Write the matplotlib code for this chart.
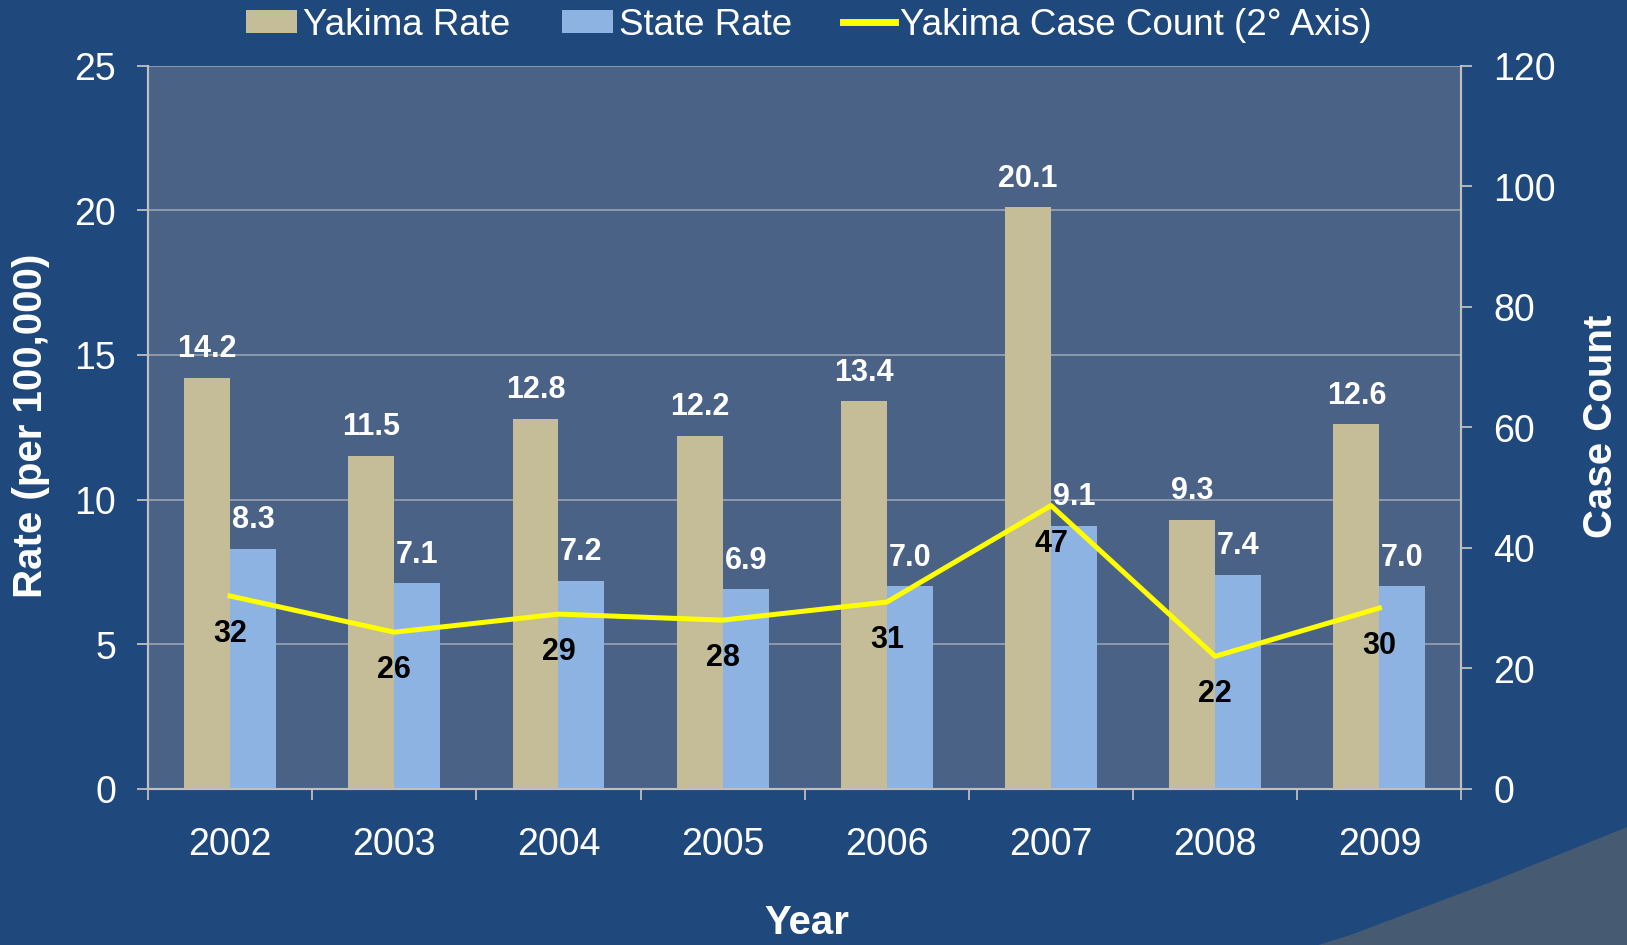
import matplotlib
matplotlib.use('Agg')
import matplotlib.pyplot as plt
import numpy as np
from matplotlib.patches import Polygon, Patch
from matplotlib.lines import Line2D

plt.rcParams['font.family'] = ['Liberation Sans', 'DejaVu Sans']

# Данные
years = ['2002', '2003', '2004', '2005', '2006', '2007', '2008', '2009']
yakima_rate = [14.2, 11.5, 12.8, 12.2, 13.4, 20.1, 9.3, 12.6]
state_rate = [8.3, 7.1, 7.2, 6.9, 7.0, 9.1, 7.4, 7.0]
case_count = [32, 26, 29, 28, 31, 47, 22, 30]

bg = '#1F497D'
plot_bg = '#4A6286'
tan = '#C4BD97'
lblue = '#8DB3E2'
grey = '#BFBFBF'

fig = plt.figure(figsize=(16.275, 9.455), dpi=100, facecolor=bg)

# декоративный уголок внизу справа
corner = Polygon([(1318 / 1627, 0), (1350 / 1627, 10 / 945), (1488 / 1627, 62 / 945),
                  (1627 / 1627, 118 / 945), (1, 0)],
                 closed=True, transform=fig.transFigure, facecolor='#465A72',
                 edgecolor='none', zorder=0)
fig.patches.append(corner)

ax = fig.add_axes([148 / 1627, 1 - 789 / 945, 1313 / 1627, 723 / 945], facecolor=plot_bg)

x = np.arange(len(years))
w = 0.28

ax.bar(x - w / 2, yakima_rate, w, color=tan, zorder=2)
ax.bar(x + w / 2, state_rate, w, color=lblue, zorder=2)

for xi, v in zip(x, yakima_rate):
    ax.annotate(f'{v:.1f}', (xi - w / 2, v), xytext=(0, 21), textcoords='offset points',
                ha='center', va='center', fontsize=22, fontweight='bold', color='white', zorder=3)
for xi, v in zip(x, state_rate):
    ax.annotate(f'{v:.1f}', (xi + w / 2, v), xytext=(0, 21), textcoords='offset points',
                ha='center', va='center', fontsize=22, fontweight='bold', color='white', zorder=3)

ax.set_xlim(-0.5, len(years) - 0.5)
ax.set_ylim(0, 25)
ax.set_yticks(np.arange(0, 26, 5))
ax.set_xticks(x)
ax.set_xticklabels(years)
ax.set_xticks(np.arange(-0.5, len(years), 1), minor=True)
ax.tick_params(axis='x', which='major', length=0, pad=27, labelsize=27, labelcolor='white')
ax.tick_params(axis='x', which='minor', length=8, width=1.3, color=grey, direction='out')
ax.tick_params(axis='y', length=8, width=1.3, color=grey, pad=15, labelsize=27, labelcolor='white')
ax.grid(axis='y', color='#9AA3B2', linewidth=1.2, zorder=1)
ax.set_axisbelow(True)
for s in ['left', 'bottom', 'right']:
    ax.spines[s].set_color(grey)
    ax.spines[s].set_linewidth(1.5)
ax.spines['top'].set_visible(False)

# вторая ось — число случаев
ax2 = ax.twinx()
ax2.plot(x, case_count, color='#FFFF00', linewidth=3.6, zorder=4)
for xi, c in zip(x, case_count):
    ax2.annotate(f'{c}', (xi, c), xytext=(0, -27), textcoords='offset points',
                 ha='center', va='center', fontsize=22, fontweight='bold', color='black', zorder=5)
ax2.set_ylim(0, 120)
ax2.set_yticks(np.arange(0, 121, 20))
ax2.tick_params(axis='y', length=8, width=1.3, color=grey, pad=15, labelsize=27, labelcolor='white')
for s in ['left', 'bottom', 'right']:
    ax2.spines[s].set_color(grey)
    ax2.spines[s].set_linewidth(1.5)
ax2.spines['top'].set_visible(False)

# подписи осей
fig.text(31 / 1627, 1 - 426 / 945, 'Rate (per 100,000)', rotation=90, ha='center', va='center',
         fontsize=29, fontweight='bold', color='white')
fig.text(1601 / 1627, 1 - 426 / 945, 'Case Count', rotation=90, ha='center', va='center',
         fontsize=29, fontweight='bold', color='white')
fig.text(807 / 1627, 1 - 923 / 945, 'Year', ha='center', va='center',
         fontsize=29, fontweight='bold', color='white')

handles = [Patch(facecolor=tan, edgecolor='none'),
           Patch(facecolor=lblue, edgecolor='none'),
           Line2D([0], [0], color='#FFFF00', linewidth=5)]
labels = ['Yakima Rate', 'State Rate', 'Yakima Case Count (2° Axis)']
fig.legend(handles, labels, loc='center', bbox_to_anchor=(0.497, 0.973), ncol=3,
           frameon=False, fontsize=26.5, labelcolor='white', handlelength=1.4,
           handleheight=0.6, handletextpad=0.15, columnspacing=1.4)

fig.savefig('out.png', dpi=100, facecolor=bg)
